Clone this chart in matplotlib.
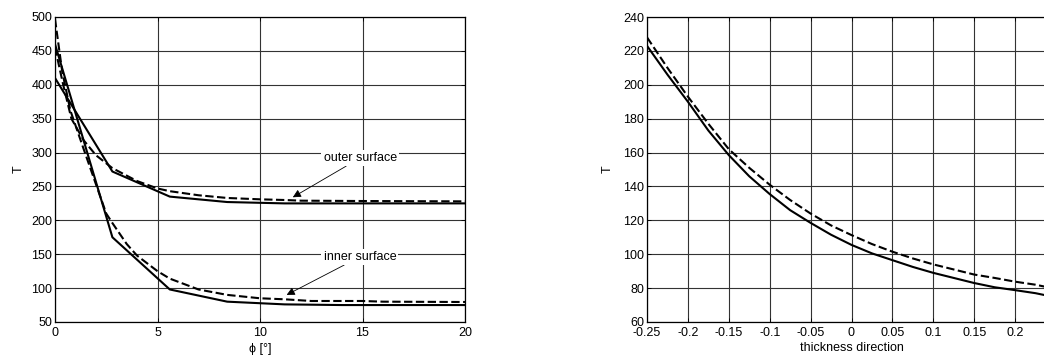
import matplotlib
matplotlib.use("Agg")
import matplotlib.pyplot as plt

plt.rcParams['font.family'] = ['Liberation Sans', 'DejaVu Sans']
plt.rcParams['font.size'] = 9
plt.rcParams['lines.scale_dashes'] = False

# left chart: temperature along the circumferential angle
phi_solid = [0, 2.8, 5.6, 8.4, 11.2, 14.0, 16.8, 20.0]
outer_solid = [410, 272, 235, 227, 225, 225, 225, 225]
inner_solid = [460, 175, 98, 80, 76, 75, 75, 75]

phi_outer_dash = [0, 0.4, 0.8, 1.4, 2.0, 2.8, 4.0, 5.0, 5.6, 7.0, 8.4, 10.0, 11.2, 12.0, 15.0, 20.0]
outer_dash = [455, 400, 350, 318, 296, 277, 258, 247, 243, 237, 233, 231, 230, 229, 228.5, 228]

phi_inner_dash = [0, 0.35, 0.75, 1.4, 2.0, 2.5, 2.8, 3.5, 4.0, 5.0, 5.6, 7.0, 8.4, 10.0, 11.2, 12.5, 15.0, 16.0, 20.0]
inner_dash = [497, 420, 362, 305, 253, 210, 196, 165, 148, 125, 114, 98, 90, 85, 83.5, 81, 81, 80, 79.5]

# right chart: temperature through the thickness
z = [-0.25, -0.225, -0.2, -0.175, -0.15, -0.125, -0.1, -0.075, -0.05, -0.025,
     0, 0.025, 0.05, 0.075, 0.1, 0.125, 0.15, 0.175, 0.2, 0.225, 0.25]
t_solid = [223, 206, 190, 173, 158.5, 146, 135.5, 126, 118.5, 111.5,
           105.5, 100.5, 96.5, 92.5, 89, 86, 83, 80.5, 78.8, 77, 74.5]
t_dash = [228, 210, 193, 177, 162, 151, 141, 132, 124, 117,
          111.3, 106, 101.5, 97.5, 94, 91, 88, 86, 83.8, 82, 79.5]
z_ticks = [-0.25, -0.2, -0.15, -0.1, -0.05, 0, 0.05, 0.1, 0.15, 0.2, 0.25]
# the 0.25 label falls outside the picture in the original, so it is left blank
z_labels = ['-0.25', '-0.2', '-0.15', '-0.1', '-0.05', '0', '0.05', '0.1', '0.15', '0.2', '']

fig = plt.figure(figsize=(10.44, 3.56), dpi=100)
ax1 = fig.add_axes([55/1044, 1-322/356, 410/1044, 305/356])
ax2 = fig.add_axes([647/1044, 1-322/356, 409/1044, 305/356])

dash = (0, (6, 2.5))
for ax in (ax1, ax2):
    ax.grid(True, color='0.2', lw=0.8, ls='-')
    ax.set_axisbelow(True)
    ax.tick_params(direction='in', length=3, width=0.6, top=True, right=True)
    ax.tick_params(axis='x', pad=3.5)
    ax.tick_params(axis='y', pad=2)
    for s in ax.spines.values():
        s.set_linewidth(0.9)
        s.set_color('k')

ax1.plot(phi_solid, outer_solid, 'k-', lw=1.5)
ax1.plot(phi_solid, inner_solid, 'k-', lw=1.5)
ax1.plot(phi_outer_dash, outer_dash, color='k', ls=dash, lw=1.5)
ax1.plot(phi_inner_dash, inner_dash, color='k', ls=dash, lw=1.5)
ax1.set_xlim(0, 20)
ax1.set_ylim(50, 500)
ax1.set_xticks([0, 5, 10, 15, 20])
ax1.set_yticks(range(50, 501, 50))
ax1.set_xlabel('ϕ [°]', labelpad=3)
ax1.set_ylabel('T', labelpad=5)

arr = dict(arrowstyle='-|>', lw=0.6, color='k', mutation_scale=12, shrinkA=0, shrinkB=0)
ax1.annotate('outer surface', xy=(11.6, 234), xytext=(13.1, 292), ha='left', va='center',
             arrowprops=arr, bbox=dict(fc='white', ec='none', pad=1.5))
ax1.annotate('inner surface', xy=(11.3, 90), xytext=(13.1, 146), ha='left', va='center',
             arrowprops=arr, bbox=dict(fc='white', ec='none', pad=1.5))

ax2.plot(z, t_solid, 'k-', lw=1.5)
ax2.plot(z, t_dash, color='k', ls=dash, lw=1.5)
ax2.set_xlim(-0.25, 0.25)
ax2.set_ylim(60, 240)
ax2.set_xticks(z_ticks)
ax2.set_xticklabels(z_labels)
ax2.set_yticks(range(60, 241, 20))
ax2.set_xlabel('thickness direction', labelpad=2)
ax2.set_ylabel('T', labelpad=7)

fig.savefig('out.png', dpi=100)
